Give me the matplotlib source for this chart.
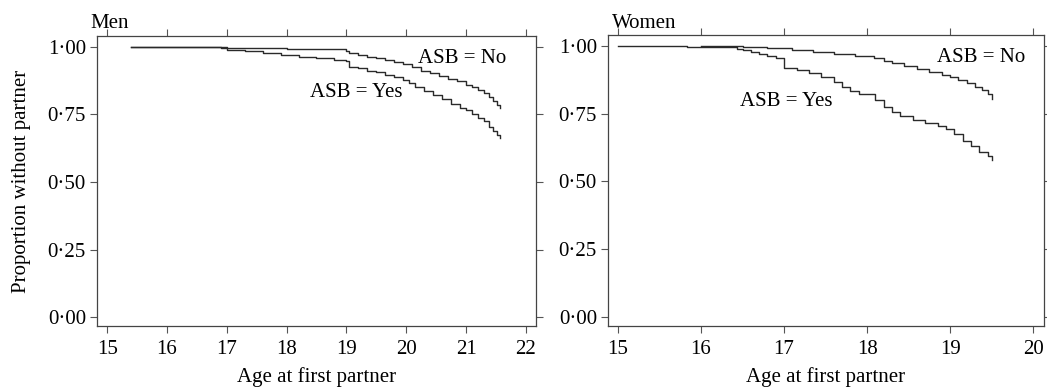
import matplotlib
matplotlib.use("Agg")

import matplotlib.pyplot as plt

plt.rcParams["font.family"] = ["Liberation Serif", "DejaVu Serif"]

# ---- Men: Kaplan-Meier steps (age, proportion without partner) ----
men_no_t = [15.4, 16.0, 17.0, 18.0, 19.0, 19.05, 19.2, 19.35, 19.5, 19.65, 19.8,
            19.95, 20.1, 20.25, 20.4, 20.55, 20.7, 20.85, 21.0, 21.1, 21.2, 21.3,
            21.38, 21.45, 21.52, 21.57]
men_no_s = [1.0, 0.999, 0.995, 0.991, 0.986, 0.977, 0.970, 0.963, 0.957, 0.950, 0.944,
            0.938, 0.925, 0.912, 0.903, 0.893, 0.882, 0.872, 0.860, 0.850, 0.840, 0.830,
            0.815, 0.800, 0.785, 0.775]

men_yes_t = [15.4, 16.0, 16.9, 17.0, 17.3, 17.6, 17.9, 18.2, 18.5, 18.8, 19.0, 19.05,
             19.2, 19.35, 19.5, 19.65, 19.8, 19.95, 20.05, 20.15, 20.3, 20.45, 20.6,
             20.75, 20.9, 21.0, 21.1, 21.2, 21.3, 21.38, 21.45, 21.52, 21.57]
men_yes_s = [1.0, 0.999, 0.995, 0.990, 0.985, 0.978, 0.970, 0.963, 0.958, 0.952, 0.946, 0.927,
             0.920, 0.912, 0.905, 0.897, 0.889, 0.878, 0.866, 0.851, 0.836, 0.822, 0.808,
             0.790, 0.775, 0.768, 0.752, 0.738, 0.725, 0.705, 0.690, 0.675, 0.662]

# ---- Women ----
women_no_t = [16.0, 16.5, 16.8, 17.1, 17.35, 17.6, 17.85, 18.08, 18.2, 18.3, 18.45,
              18.6, 18.75, 18.9, 19.0, 19.1, 19.2, 19.3, 19.38, 19.45, 19.5]
women_no_s = [1.0, 0.996, 0.991, 0.985, 0.977, 0.970, 0.962, 0.954, 0.944, 0.935, 0.925,
              0.913, 0.903, 0.893, 0.884, 0.873, 0.862, 0.850, 0.836, 0.822, 0.805]

women_yes_t = [15.0, 15.83, 16.43, 16.5, 16.6, 16.7, 16.8, 16.9, 17.0, 17.15, 17.3,
               17.45, 17.6, 17.7, 17.8, 17.9, 18.1, 18.2, 18.3, 18.4, 18.55, 18.7,
               18.85, 18.95, 19.05, 19.15, 19.25, 19.35, 19.45, 19.5]
women_yes_s = [1.0, 0.995, 0.989, 0.983, 0.977, 0.970, 0.962, 0.954, 0.917, 0.910, 0.900,
               0.885, 0.866, 0.850, 0.835, 0.822, 0.800, 0.775, 0.755, 0.740, 0.725, 0.715,
               0.705, 0.693, 0.675, 0.650, 0.630, 0.610, 0.592, 0.578]

y_ticks = [0.0, 0.25, 0.5, 0.75, 1.0]
y_ticklabels = ["0·00", "0·25", "0·50", "0·75", "1·00"]
men_xticks = [15, 16, 17, 18, 19, 20, 21, 22]
women_xticks = [15, 16, 17, 18, 19, 20]

fig = plt.figure(figsize=(10.47, 3.89), dpi=100)
ax1 = fig.add_axes([97 / 1047, 1 - 326 / 389, 439 / 1047, 290 / 389])
ax2 = fig.add_axes([608 / 1047, 1 - 326 / 389, 436 / 1047, 291 / 389])

line_kw = dict(drawstyle="steps-post", color="#2a2a2a", linewidth=1.0)
ax1.plot(men_no_t, men_no_s, **line_kw)
ax1.plot(men_yes_t, men_yes_s, **line_kw)
ax2.plot(women_no_t, women_no_s, **line_kw)
ax2.plot(women_yes_t, women_yes_s, **line_kw)

ax1.set_xlim(14.83, 22.17)
ax2.set_xlim(14.88, 20.13)

for ax, xt in [(ax1, men_xticks), (ax2, women_xticks)]:
    ax.set_ylim(-0.033, 1.04)
    ax.set_yticks(y_ticks)
    ax.set_yticklabels(y_ticklabels)
    ax.set_xticks(xt)
    ax.tick_params(direction="out", length=5, width=0.8, color="#555555",
                   labelsize=15, top=True, right=True, pad=3)
    ax.tick_params(axis="x", pad=5)
    for sp in ax.spines.values():
        sp.set_color("#444444")
        sp.set_linewidth(0.9)
    ax.set_xlabel("Age at first partner", fontsize=15, labelpad=6)

ax1.set_ylabel("Proportion without partner", fontsize=15, labelpad=12)

ax1.text(20.2, 0.957, "ASB = No", fontsize=15, va="center", ha="left")
ax1.text(18.39, 0.831, "ASB = Yes", fontsize=15, va="center", ha="left")
ax2.text(18.84, 0.956, "ASB = No", fontsize=15, va="center", ha="left")
ax2.text(16.47, 0.794, "ASB = Yes", fontsize=15, va="center", ha="left")

fig.text(90 / 1047, 1 - 28 / 389, "Men", fontsize=15, ha="left", va="baseline")
fig.text(612 / 1047, 1 - 28 / 389, "Women", fontsize=15, ha="left", va="baseline")

fig.savefig("out.png", dpi=100)
